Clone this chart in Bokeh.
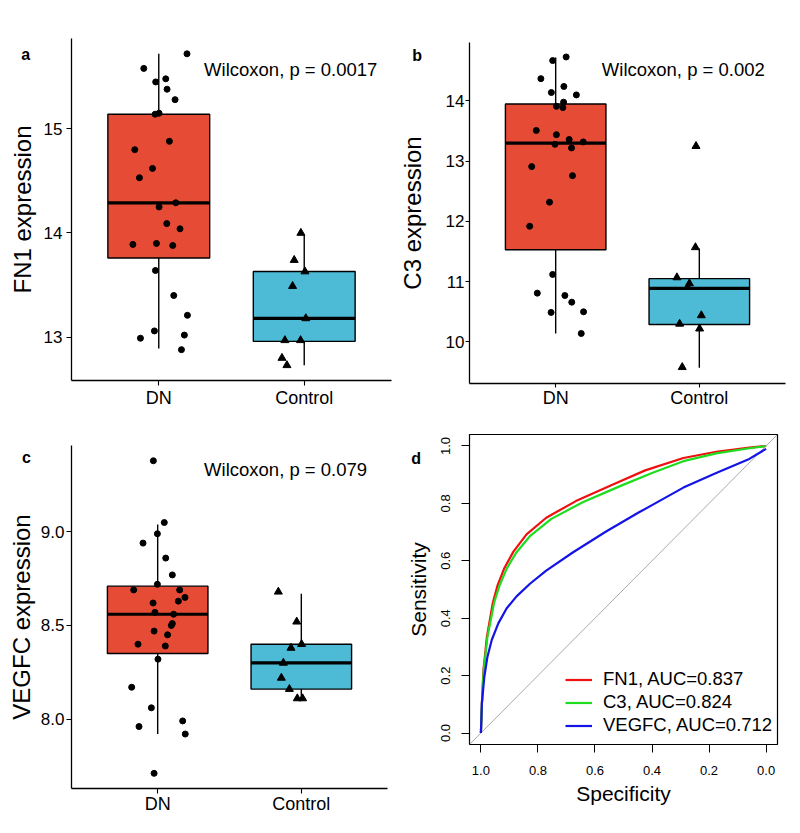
from bokeh.plotting import figure
from bokeh.models import Range1d, FixedTicker, Label, Legend, LegendItem, Slope
from bokeh.layouts import row, column
from bokeh.embed import file_html
from bokeh.resources import INLINE

FONT = "Liberation Sans"
DN_FILL = "#E64B35"
CTRL_FILL = "#4DBBD5"

groups = ["DN", "Control"]

# ---------------- FN1 ----------------
fn1_dn_values = [15.72, 15.58, 15.45, 15.48, 15.38, 15.28, 15.14, 15.15, 14.88, 14.80, 14.62, 14.53, 14.25,
                 14.29, 14.09, 14.04, 13.89, 13.90, 13.88, 13.64, 13.40, 13.21, 13.06, 12.99, 13.02, 12.88]
fn1_dn_jitter = [0.194, -0.103, -0.021, 0.048, 0.057, 0.112, -0.025, 0.002, 0.073, -0.165, -0.043, -0.133, 0.002,
                 0.117, 0.055, 0.146, -0.178, -0.016, 0.096, -0.023, 0.103, 0.197, -0.030, -0.126, 0.176, 0.156]
fn1_ctrl_values = [14.00, 13.74, 13.63, 13.49, 13.18, 12.97, 12.97, 12.80, 12.73]
fn1_ctrl_jitter = [-0.023, -0.069, 0.005, -0.080, 0.011, -0.133, -0.025, -0.153, -0.119]
# lower whisker, Q1, median, Q3, upper whisker
fn1_dn_box = [12.89, 13.76, 14.29, 15.14, 15.72]
fn1_ctrl_box = [12.73, 12.96, 13.18, 13.63, 13.99]
fn1_ticks = [13, 14, 15]
fn1_p = "Wilcoxon, p = 0.0017"

# ---------------- C3 ----------------
c3_dn_values = [14.73, 14.67, 14.37, 14.24, 14.14, 14.10, 13.98, 13.91, 13.89, 13.51, 13.44, 13.36, 13.32,
                13.28, 13.22, 12.91, 12.76, 12.32, 11.92, 11.12, 10.81, 10.77, 10.66, 10.49, 10.50, 10.14]
c3_dn_jitter = [0.073, -0.021, -0.103, 0.057, -0.030, 0.144, 0.055, 0.005, 0.050, -0.135, 0.005, 0.094, 0.192,
                -0.005, 0.110, -0.167, 0.117, -0.043, -0.181, -0.021, -0.128, 0.064, 0.112, -0.032, 0.194, 0.178]
c3_ctrl_values = [13.25, 11.57, 11.07, 10.97, 10.91, 10.44, 10.30, 10.22, 9.58]
c3_ctrl_jitter = [-0.023, -0.027, -0.156, -0.069, -0.082, 0.014, -0.137, 0.002, -0.119]
c3_dn_box = [10.14, 11.53, 13.30, 13.95, 14.72]
c3_ctrl_box = [9.57, 10.29, 10.89, 11.05, 11.55]
c3_ticks = [10, 11, 12, 13, 14]
c3_p = "Wilcoxon, p = 0.002"

# ---------------- VEGFC ----------------
vegfc_dn_values = [9.38, 9.05, 8.99, 8.94, 8.86, 8.77, 8.72, 8.69, 8.69, 8.65, 8.63, 8.62, 8.57, 8.56,
                   8.51, 8.50, 8.47, 8.45, 8.40, 8.39, 8.32, 8.17, 8.06, 7.96, 7.99, 7.92, 7.71]
vegfc_dn_jitter = [-0.030, 0.046, -0.002, -0.102, 0.056, 0.102, -0.002, -0.167, 0.153, 0.190, 0.144, -0.032,
                   -0.019, 0.111, 0.102, 0.095, -0.025, 0.069, -0.137, 0.053, 0.002, -0.181, -0.044, -0.130,
                   0.174, 0.192, -0.025]
vegfc_ctrl_values = [8.68, 8.52, 8.38, 8.40, 8.30, 8.22, 8.16, 8.11, 8.11]
vegfc_ctrl_jitter = [-0.160, -0.032, -0.072, 0.002, -0.125, -0.139, -0.083, -0.028, 0.009]
vegfc_dn_box = [7.92, 8.35, 8.56, 8.71, 9.04]
vegfc_ctrl_box = [8.11, 8.16, 8.30, 8.40, 8.67]
vegfc_ticks = [8.0, 8.5, 9.0]
vegfc_tick_labels = ["8.0", "8.5", "9.0"]
vegfc_p = "Wilcoxon, p = 0.079"

# ---------------- ROC ----------------
fn1_spec = [1.0, 0.9965, 0.991, 0.979, 0.958, 0.942, 0.919, 0.886, 0.840, 0.771, 0.667, 0.539, 0.424,
            0.29, 0.175, 0.059, 0.0]
fn1_sens = [0.0, 0.104, 0.22, 0.335, 0.455, 0.513, 0.572, 0.632, 0.692, 0.750, 0.808, 0.865, 0.915,
            0.958, 0.980, 0.994, 1.0]
c3_spec = [1.0, 0.9965, 0.990, 0.977, 0.9535, 0.935, 0.910, 0.875, 0.826, 0.753, 0.643, 0.510, 0.400,
           0.29, 0.175, 0.059, 0.0]
c3_sens = [0.0, 0.104, 0.22, 0.335, 0.455, 0.513, 0.572, 0.630, 0.688, 0.746, 0.804, 0.861, 0.906,
           0.947, 0.974, 0.992, 1.0]
vegfc_spec = [1.0, 0.9965, 0.988, 0.977, 0.962, 0.939, 0.910, 0.875, 0.828, 0.771, 0.678, 0.5625, 0.447,
              0.400, 0.29, 0.175, 0.059, 0.0]
vegfc_sens = [0.0, 0.104, 0.196, 0.266, 0.324, 0.382, 0.434, 0.476, 0.520, 0.566, 0.629, 0.701, 0.768,
              0.794, 0.855, 0.906, 0.955, 0.99]
roc_labels = ["FN1, AUC=0.837", "C3, AUC=0.824", "VEGFC, AUC=0.712"]
roc_colors = ["#F01010", "#1EDC1E", "#1414E6"]
roc_ticks = [0.0, 0.2, 0.4, 0.6, 0.8, 1.0]
roc_tick_labels = ["0.0", "0.2", "0.4", "0.6", "0.8", "1.0"]


def px_to_data(xr, yr, fw, fh, dx, dy):
    """dx px right of frame left, dy px below frame top -> data coords"""
    x = xr.start + dx * (xr.end - xr.start) / fw
    y = yr.end - dy * (yr.end - yr.start) / fh
    return x, y


def add_letter(p, xr, yr, fw, fh, letter, letter_px, side):
    lx, ly = px_to_data(xr, yr, fw, fh, *letter_px)
    p.add_layout(Label(x=lx, y=ly, text=letter, text_font=FONT, text_font_size="16px",
                       text_font_style="bold", text_align="left", text_baseline="alphabetic",
                       text_color="black"), side)


def box_panel(w, h, bl, br, bt, bb, yr, ticks, tick_labels, ylabel,
              dn_vals, dn_jit, ct_vals, ct_jit, dn_box, ct_box,
              ptext, ptext_px, letter, letter_px,
              tick_out, ylab_standoff, ytitle_standoff, xlab_standoff):
    xr = Range1d(0.4, 2.6)
    yrange = Range1d(*yr)
    p = figure(width=w, height=h, x_range=xr, y_range=yrange, output_backend="svg",
               toolbar_location=None, min_border_left=bl, min_border_right=br,
               min_border_top=bt, min_border_bottom=bb)
    p.xgrid.visible = False
    p.ygrid.visible = False
    p.outline_line_color = None
    fw, fh = w - bl - br, h - bt - bb

    for ax in (p.xaxis[0], p.yaxis[0]):
        ax.axis_line_color = "black"
        ax.axis_line_width = 1.3
        ax.major_tick_line_color = "black"
        ax.major_tick_line_width = 1.1
        ax.major_tick_out = tick_out
        ax.major_tick_in = 0
        ax.minor_tick_line_color = None
        ax.major_label_text_font = FONT
        ax.major_label_text_color = "black"
        ax.axis_label_text_font = FONT
        ax.axis_label_text_font_style = "normal"
        ax.axis_label_text_color = "black"

    p.xaxis.ticker = FixedTicker(ticks=[1, 2])
    p.xaxis.major_label_overrides = {1: groups[0], 2: groups[1]}
    p.xaxis.major_label_text_font_size = "18px"
    p.xaxis.major_label_standoff = xlab_standoff

    p.yaxis.ticker = FixedTicker(ticks=ticks)
    p.yaxis.major_label_overrides = {t: l for t, l in zip(ticks, tick_labels)}
    p.yaxis.major_label_text_font_size = "17px"
    p.yaxis.major_label_standoff = ylab_standoff
    p.yaxis.axis_label = ylabel
    p.yaxis.axis_label_text_font_size = "24px"
    p.yaxis.axis_label_standoff = ytitle_standoff

    for xc, box, fill in ((1, dn_box, DN_FILL), (2, ct_box, CTRL_FILL)):
        lo, q1, med, q3, hi = box
        p.segment(x0=[xc, xc], y0=[q3, q1], x1=[xc, xc], y1=[hi, lo], line_color="black", line_width=1.4)
        p.vbar(x=[xc], width=0.7, bottom=[q1], top=[q3], fill_color=fill, line_color="black", line_width=1.4)
        p.segment(x0=[xc - 0.35], y0=[med], x1=[xc + 0.35], y1=[med], line_color="black", line_width=3.2)

    p.scatter([1 + j for j in dn_jit], dn_vals, marker="circle", size=6, color="black")
    p.scatter([2 + j for j in ct_jit], ct_vals, marker="triangle", size=8, color="black")

    tx, ty = px_to_data(xr, yrange, fw, fh, *ptext_px)
    p.add_layout(Label(x=tx, y=ty, text=ptext, text_font=FONT, text_font_size="18.5px",
                       text_align="left", text_baseline="alphabetic", text_color="black"))
    add_letter(p, xr, yrange, fw, fh, letter, letter_px, "above")
    return p


pa = box_panel(395, 416, 71, 4, 38, 36, (12.584, 15.867), fn1_ticks, [str(t) for t in fn1_ticks],
               "FN1 expression", fn1_dn_values, fn1_dn_jitter, fn1_ctrl_values, fn1_ctrl_jitter,
               fn1_dn_box, fn1_ctrl_box, fn1_p, (132.6, 30.5), "a", (-50.2, 15.9),
               5, 4, 5, 2)
pc = box_panel(391, 417, 71, 4, 29, 45, (7.629, 9.4615), vegfc_ticks, vegfc_tick_labels,
               "VEGFC expression", vegfc_dn_values, vegfc_dn_jitter, vegfc_ctrl_values, vegfc_ctrl_jitter,
               vegfc_dn_box, vegfc_ctrl_box, vegfc_p, (132.6, 24.3), "c", (-49.5, 12.3),
               5, 2, 3, 0)
pb = box_panel(405, 416, 70, 15, 42, 33, (9.31, 14.97), c3_ticks, [str(t) for t in c3_ticks],
               "C3 expression", c3_dn_values, c3_dn_jitter, c3_ctrl_values, c3_ctrl_jitter,
               c3_dn_box, c3_ctrl_box, c3_p, (134.0, 26.6), "b", (-58.0, 13.3),
               4, 1, 17, 0)

# ---------------- panel d ----------------
dw, dh, dbl, dbr, dbt, dbb = 397, 417, 70, 15, 18, 89
dxr = Range1d(1.04, -0.04)
dyr = Range1d(-0.04, 1.04)
pd = figure(width=dw, height=dh, x_range=dxr, y_range=dyr, output_backend="svg", toolbar_location=None,
            min_border_left=dbl, min_border_right=dbr, min_border_top=dbt, min_border_bottom=dbb)
pd.xgrid.visible = False
pd.ygrid.visible = False
pd.outline_line_color = "black"
pd.outline_line_width = 1.2

for ax in (pd.xaxis[0], pd.yaxis[0]):
    ax.axis_line_color = None
    ax.major_tick_line_color = "black"
    ax.major_tick_line_width = 1
    ax.major_tick_out = 8
    ax.major_tick_in = 0
    ax.minor_tick_line_color = None
    ax.ticker = FixedTicker(ticks=roc_ticks)
    ax.major_label_overrides = {t: l for t, l in zip(roc_ticks, roc_tick_labels)}
    ax.major_label_text_font = FONT
    ax.major_label_text_font_size = "13px"
    ax.major_label_text_color = "black"
    ax.axis_label_text_font = FONT
    ax.axis_label_text_font_size = "21px"
    ax.axis_label_text_font_style = "normal"
    ax.axis_label_text_color = "black"

pd.xaxis.axis_label = "Specificity"
pd.xaxis.major_label_standoff = 13
pd.xaxis.axis_label_standoff = 4
pd.yaxis.axis_label = "Sensitivity"
pd.yaxis.major_label_orientation = "vertical"
pd.yaxis.major_label_standoff = 11
pd.yaxis.axis_label_standoff = 9

diag = Slope(gradient=-1, y_intercept=1, line_color="#AAAAAA", line_width=1, level="underlay")
pd.add_layout(diag)

r1 = pd.line(fn1_spec, fn1_sens, line_color=roc_colors[0], line_width=2.2)
r2 = pd.line(c3_spec, c3_sens, line_color=roc_colors[1], line_width=2.2)
r3 = pd.line(vegfc_spec, vegfc_sens, line_color=roc_colors[2], line_width=2.2)

legend = Legend(items=[LegendItem(label=roc_labels[0], renderers=[r1]),
                       LegendItem(label=roc_labels[1], renderers=[r2]),
                       LegendItem(label=roc_labels[2], renderers=[r3])],
                location=(96, 8), border_line_color=None, background_fill_alpha=0,
                padding=0, margin=0, spacing=1, glyph_width=27, glyph_height=19, label_height=19,
                label_standoff=11, label_text_font=FONT, label_text_font_size="18.5px",
                label_text_color="black")
pd.add_layout(legend)

dfw, dfh = dw - dbl - dbr, dh - dbt - dbb
add_letter(pd, dxr, dyr, dfw, dfh, "d", (-59.0, 24.3), "right")

layout = row(column(pa, pc), column(pb, pd))

with open("out.html", "w") as f:
    f.write(file_html(layout, INLINE))
